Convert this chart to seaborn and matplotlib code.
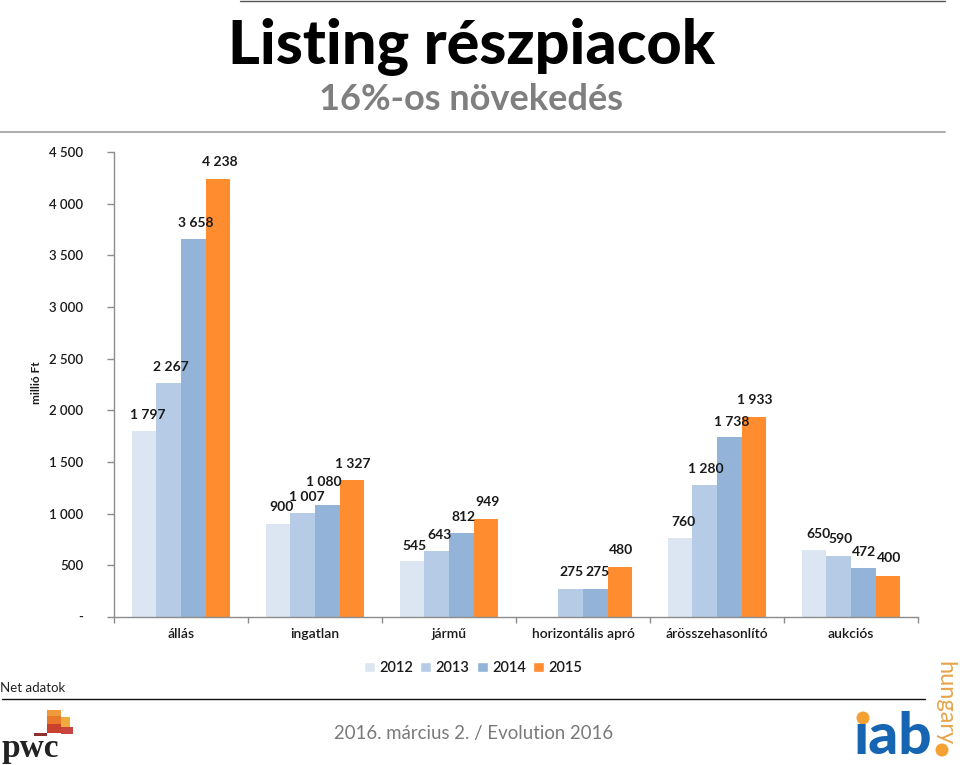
import matplotlib
matplotlib.use("Agg")
import matplotlib.pyplot as plt
import matplotlib.patches as patches
import numpy as np
import pandas as pd
import seaborn as sns

categories = ["állás", "ingatlan", "jármű", "horizontális apró", "árösszehasonlító", "aukciós"]
years = ["2012", "2013", "2014", "2015"]
v2012 = [1797, 900, 545, np.nan, 760, 650]
v2013 = [2267, 1007, 643, 275, 1280, 590]
v2014 = [3658, 1080, 812, 275, 1738, 472]
v2015 = [4238, 1327, 949, 480, 1933, 400]
colors = ["#dce6f2", "#b6cbe5", "#93b3d8", "#ff8c2f"]
yticks = [0, 500, 1000, 1500, 2000, 2500, 3000, 3500, 4000, 4500]

# label shifts in pixels from the top centre of each bar (dx, dy)
shifts = {
    "2012": [(4, 16), (3, 17), (2, 15), (0, 0), (3, 16), (4, 16)],
    "2013": [(2, 16), (4, 16), (3, 16), (1, 17), (1, 16), (2, 17)],
    "2014": [(2, 16), (-3, 23), (2, 16), (2, 17), (2, 15), (1, 16)],
    "2015": [(2, 17), (1, 16), (2, 17), (1, 17), (1, 17), (1, 18)],
}

W, H = 960, 765


def fmt(v):
    return f"{int(v):,}".replace(",", " ")


df = pd.DataFrame({"kat": categories, "2012": v2012, "2013": v2013, "2014": v2014, "2015": v2015})
df = df.melt(id_vars="kat", var_name="ev", value_name="ertek")

sns.set_style("white")
plt.rcParams["font.family"] = ["Lato", "DejaVu Sans"]

fig = plt.figure(figsize=(W / 100, H / 100), dpi=100)
ax = fig.add_axes([114 / W, 1 - 617 / H, 804 / W, (617 - 152) / H])

sns.barplot(data=df, x="kat", y="ertek", hue="ev", hue_order=years, palette=colors,
            width=0.735, gap=0, saturation=1, linewidth=0, edgecolor="none", ax=ax, legend=False)

for cont, year in zip(ax.containers, years):
    for bar in cont:
        val = bar.get_height()
        xc = bar.get_x() + bar.get_width() / 2
        # a missing value drops its bar, so find the group from the position
        shift = shifts[year][int(round(xc))]
        ax.annotate(fmt(val), (xc, val), xytext=shift,
                    textcoords="offset pixels", ha="center", va="center",
                    fontsize=10, fontweight="bold", color="#1a1a1a")

ax.set_xlim(-0.5, 5.5)
ax.set_ylim(0, 4500)
ax.set_xlabel("")
ax.set_ylabel("")
ax.set_yticks(yticks)
ax.set_yticklabels(["-"] + [fmt(t) for t in yticks[1:]], fontsize=9.5, fontweight="semibold", color="#1a1a1a")
ax.set_xticks(range(len(categories)))
ax.set_xticklabels(categories, fontsize=10, fontweight="semibold", color="#1a1a1a")
ax.set_xticks(np.arange(-0.5, 6), minor=True)
ax.tick_params(axis="x", which="major", length=0, pad=8)
ax.tick_params(axis="x", which="minor", length=4, color="#8c8c8c", width=1, direction="out", bottom=True)
ax.tick_params(axis="y", length=5, color="#8c8c8c", width=1, direction="out", left=True, pad=17)
sns.despine(ax=ax)
for side in ["left", "bottom"]:
    ax.spines[side].set_color("#8c8c8c")
    ax.spines[side].set_linewidth(1)

handles = [patches.Patch(facecolor=c, label=y) for c, y in zip(colors, years)]
fig.legend(handles=handles, loc="center", bbox_to_anchor=(473 / W, 1 - 668 / H), ncol=4, frameon=False,
           handlelength=0.75, handleheight=0.75, handletextpad=0.3, columnspacing=0.5,
           labelcolor="#1a1a1a", prop={"weight": "semibold", "size": 10.5})

# overlay in pixel coordinates for the slide furniture
ov = fig.add_axes([0, 0, 1, 1], zorder=5)
ov.set_xlim(0, W)
ov.set_ylim(H, 0)
ov.axis("off")
ov.patch.set_alpha(0)

ov.text(36, 383, "millió Ft", rotation=90, ha="center", va="center", fontsize=8.5, fontweight="bold", color="#1a1a1a")
ov.text(471, 47, "Listing részpiacok", ha="center", va="center", fontsize=44, fontweight="black", color="black")
ov.text(471, 99, "16%-os növekedés", ha="center", va="center", fontsize=26, fontweight="bold", color="#7f7f7f")
ov.text(0, 688, "Net adatok", ha="left", va="center", fontsize=9.5, color="#222222")
ov.text(474, 734, "2016. március 2. / Evolution 2016", ha="center", va="center", fontsize=13.4, color="#7a7a7a")

ov.plot([0, 945], [131.5, 131.5], color="#a6a6a6", lw=1.3)
ov.plot([240, 945], [0.5, 0.5], color="#555555", lw=1)
ov.plot([2, 925], [699, 699], color="#111111", lw=1)

# pwc logo
for x, y, w, h, c in [(47, 710, 14, 6, "#ef9a3c"), (47, 716, 14, 8, "#e8782a"), (61, 717, 9, 10, "#f0ac3a"),
                      (47, 724, 14, 9, "#c9402c"), (61, 727, 12, 7, "#c8463f"), (34, 733, 13, 3, "#8e3030")]:
    ov.add_patch(patches.Rectangle((x, y), w, h, facecolor=c, edgecolor="none"))
ov.text(1, 749, "pwc", ha="left", va="center", fontsize=24, fontweight="bold", family=["Liberation Serif"], color="#222222")

# iab logo
ov.add_patch(patches.Circle((863, 718), 6.5, facecolor="#f5a033", edgecolor="none"))
ov.add_patch(patches.Circle((942, 750), 6.5, facecolor="#f5a033", edgecolor="none"))
ov.text(893, 738, "ıab", ha="center", va="center", fontsize=42, fontweight="black", color="#1665b3")
ov.text(945, 703, "hungary", rotation=-90, ha="center", va="center", fontsize=17, color="#e8a44c")

fig.savefig("out.png", dpi=100)
